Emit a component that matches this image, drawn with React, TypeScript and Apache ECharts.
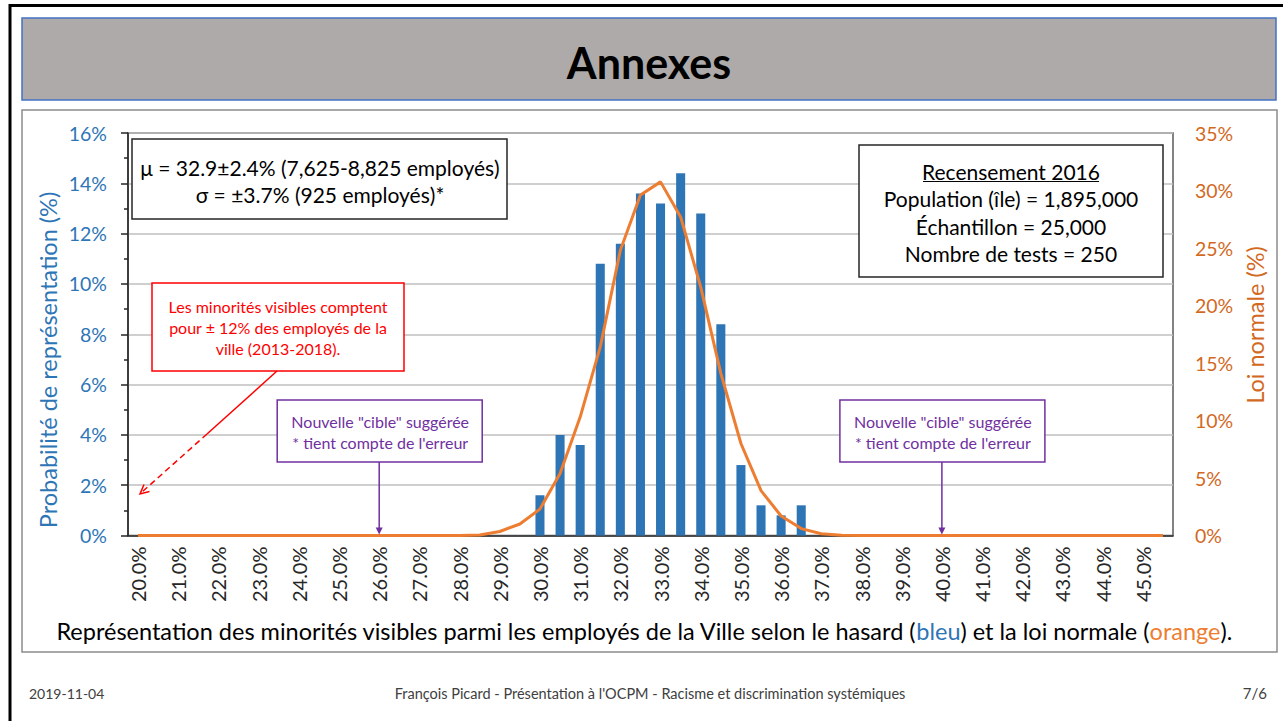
import React, { useEffect, useRef } from "react";
import * as echarts from "echarts";

// ---------- data ----------
const categories = [
  "20.0%", "20.5%", "21.0%", "21.5%", "22.0%", "22.5%", "23.0%", "23.5%", "24.0%", "24.5%",
  "25.0%", "25.5%", "26.0%", "26.5%", "27.0%", "27.5%", "28.0%", "28.5%", "29.0%", "29.5%",
  "30.0%", "30.5%", "31.0%", "31.5%", "32.0%", "32.5%", "33.0%", "33.5%", "34.0%", "34.5%",
  "35.0%", "35.5%", "36.0%", "36.5%", "37.0%", "37.5%", "38.0%", "38.5%", "39.0%", "39.5%",
  "40.0%", "40.5%", "41.0%", "41.5%", "42.0%", "42.5%", "43.0%", "43.5%", "44.0%", "44.5%",
  "45.0%", "45.5%",
];

// Probabilité de représentation (%) – bars (left axis)
const probabilite = [
  0, 0, 0, 0, 0, 0, 0, 0, 0, 0,
  0, 0, 0, 0, 0, 0, 0, 0, 0, 0,
  1.6, 4.0, 3.6, 10.8, 11.6, 13.6, 13.2, 14.4, 12.8, 8.4,
  2.8, 1.2, 0.8, 1.2, 0, 0, 0, 0, 0, 0,
  0, 0, 0, 0, 0, 0, 0, 0, 0, 0,
  0, 0,
];

// Loi normale (%) – line (right axis)
const loiNormale = [
  0, 0, 0, 0, 0, 0, 0, 0, 0, 0,
  0, 0, 0, 0, 0, 0, 0, 0.05, 0.35, 1.0,
  2.3, 5.4, 10.3, 16.4, 24.8, 29.6, 30.75, 27.7, 21.6, 14.1,
  8.0, 3.9, 1.7, 0.6, 0.15, 0.03, 0, 0, 0, 0,
  0, 0, 0, 0, 0, 0, 0, 0, 0, 0,
  0, 0,
];

const cibleCategories = ["26.0%", "40.0%"];

const statsLines = ["μ = 32.9±2.4% (7,625-8,825 employés)", "σ = ±3.7% (925 employés)*"];
const recensementLines = [
  "Recensement 2016",
  "Population (île) = 1,895,000",
  "Échantillon = 25,000",
  "Nombre de tests = 250",
];
const minoritesLines = [
  "Les minorités visibles comptent",
  "pour ± 12% des employés de la",
  "ville (2013-2018).",
];
const cibleLines = ['Nouvelle "cible" suggérée', "* tient compte de l'erreur"];

const FONT = 'Lato, "Open Sans", sans-serif';
const BLUE = "#2E75B6";
const ORANGE = "#ED7D31";
const ORANGE_TEXT = "#D2691E";
const PURPLE = "#7030A0";
const RED = "#FF0000";
const DARK = "#262626";

function txt(x: number, y: number, text: string, size: number, fill: string, extra: any = {}) {
  return {
    type: "text",
    x,
    y,
    z: 60,
    style: {
      text,
      fill,
      fontSize: size,
      fontFamily: FONT,
      align: "center",
      verticalAlign: "middle",
      ...extra,
    },
  };
}

function box(x: number, y: number, w: number, h: number, stroke: string, lw = 1.5) {
  return {
    type: "rect",
    z: 50,
    shape: { x, y, width: w, height: h },
    style: { fill: "#ffffff", stroke, lineWidth: lw },
  };
}

export default function App() {
  const ref = useRef<HTMLDivElement>(null);

  useEffect(() => {
    document.body.style.margin = "0";
    const chart = echarts.init(ref.current!, null, { renderer: "svg" });

    const option: any = {
      animation: false,
      backgroundColor: "#ffffff",
      textStyle: { fontFamily: FONT },
      grid: {
        left: 128,
        right: 110,
        top: 133,
        bottom: 185.5,
        show: true,
        borderColor: "#595959",
        borderWidth: 1.5,
        backgroundColor: "transparent",
      },
      xAxis: [
        {
          type: "category",
          data: categories,
          boundaryGap: true,
          axisLine: { lineStyle: { color: DARK, width: 1.5 } },
          axisTick: { interval: 0, length: 4, lineStyle: { color: DARK, width: 1.5 } },
          axisLabel: {
            interval: 1,
            rotate: 90,
            margin: 11,
            fontSize: 20,
            color: DARK,
            fontFamily: FONT,
          },
        },
        {
          type: "category",
          data: categories,
          position: "bottom",
          boundaryGap: true,
          axisLine: { show: false },
          axisTick: { interval: 1, length: 8, lineStyle: { color: DARK, width: 1.5 } },
          axisLabel: { show: false },
          splitLine: { show: false },
        },
      ],
      yAxis: [
        {
          type: "value",
          min: 0,
          max: 16,
          interval: 2,
          position: "left",
          axisLine: { show: true, lineStyle: { color: DARK, width: 1.5 } },
          axisTick: { show: true, length: 7, lineStyle: { color: DARK, width: 1.5 } },
          minorTick: { show: true, splitNumber: 2, length: 4, lineStyle: { color: DARK, width: 1.5 } },
          splitLine: { show: true, lineStyle: { color: "#BFBFBF", width: 1.5 } },
          axisLabel: { formatter: "{value}%", color: BLUE, fontSize: 19.5, margin: 21, fontFamily: FONT },
        },
        {
          type: "value",
          min: 0,
          max: 35,
          interval: 5,
          position: "right",
          axisLine: { show: false },
          axisTick: { show: false },
          splitLine: { show: false },
          axisLabel: { formatter: "{value}%", color: ORANGE_TEXT, fontSize: 19.5, margin: 22, fontFamily: FONT },
        },
      ],
      series: [
        {
          name: "Probabilité de représentation",
          type: "bar",
          xAxisIndex: 0,
          yAxisIndex: 0,
          data: probabilite,
          barWidth: "45%",
          itemStyle: { color: BLUE },
          z: 3,
        },
        {
          name: "Loi normale",
          type: "line",
          xAxisIndex: 0,
          yAxisIndex: 1,
          data: loiNormale,
          symbol: "none",
          lineStyle: { color: ORANGE, width: 3 },
          itemStyle: { color: ORANGE },
          z: 4,
        },
      ],
    };
    chart.setOption(option);

    const yZero = chart.convertToPixel({ yAxisIndex: 0 } as any, 0) as number;
    const cibleX = cibleCategories.map((c) => chart.convertToPixel({ xAxisIndex: 0 } as any, c) as number);

    const graphics: any[] = [];
    // slide frame
    graphics.push({
      type: "rect",
      z: 0,
      shape: { x: 10, y: 5.5, width: 1400, height: 800 },
      style: { fill: "none", stroke: "#000000", lineWidth: 3 },
    });
    // title bar
    graphics.push({
      type: "rect",
      z: 1,
      shape: { x: 22, y: 18, width: 1254, height: 82 },
      style: { fill: "#AEAAAA", stroke: "#4472C4", lineWidth: 1.5 },
    });
    graphics.push(txt(649, 62, "Annexes", 43, "#000000", { fontWeight: "bold" }));
    // chart frame
    graphics.push({
      type: "rect",
      z: 1,
      shape: { x: 22, y: 110, width: 1255, height: 542 },
      style: { fill: "none", stroke: "#8C8C8C", lineWidth: 1.5 },
    });
    // axis titles
    graphics.push({
      ...txt(48, 360, "Probabilité de représentation (%)", 23.5, BLUE),
      rotation: Math.PI / 2,
    });
    graphics.push({
      ...txt(1255, 325, "Loi normale (%)", 23.5, ORANGE_TEXT),
      rotation: Math.PI / 2,
    });

    // stats box
    graphics.push(box(132, 139, 375, 80, "#262626"));
    graphics.push(txt(320, 167, statsLines[0], 21, "#000000"));
    graphics.push(txt(320, 194, statsLines[1], 21, "#000000"));

    // recensement box
    graphics.push(box(859, 145, 304, 132, "#262626"));
    const recY = [171, 198, 226, 253];
    recensementLines.forEach((l, i) => graphics.push(txt(1011, recY[i], l, 21, "#000000")));
    graphics.push({
      type: "line",
      z: 60,
      shape: { x1: 923, y1: 181.5, x2: 1099, y2: 181.5 },
      style: { stroke: "#000000", lineWidth: 1.2 },
    });

    // red box + arrow
    graphics.push(box(152, 283, 252, 88, RED));
    const redY = [306, 327, 348];
    minoritesLines.forEach((l, i) => graphics.push(txt(278, redY[i], l, 16, RED)));
    graphics.push({
      type: "line",
      z: 60,
      shape: { x1: 277, y1: 371, x2: 207, y2: 434 },
      style: { stroke: RED, lineWidth: 1.5 },
    });
    graphics.push({
      type: "line",
      z: 60,
      shape: { x1: 207, y1: 434, x2: 142, y2: 492 },
      style: { stroke: RED, lineWidth: 1.5, lineDash: [6, 4] },
    });
    graphics.push({
      type: "polyline",
      z: 60,
      shape: { points: [[149.5, 491.5], [140, 494], [144, 484.5]] },
      style: { stroke: RED, lineWidth: 1.5, fill: "none" },
    });

    // purple "cible" boxes + arrows
    cibleX.forEach((cx) => {
      const bx = cx - 102;
      graphics.push(box(bx, 400, 205, 62, PURPLE));
      graphics.push(txt(cx + 1, 421, cibleLines[0], 16, PURPLE));
      graphics.push(txt(cx + 1, 442, cibleLines[1], 16, PURPLE));
      graphics.push({
        type: "line",
        z: 60,
        shape: { x1: cx, y1: 462, x2: cx, y2: yZero - 6 },
        style: { stroke: PURPLE, lineWidth: 1.5 },
      });
      graphics.push({
        type: "polygon",
        z: 60,
        shape: { points: [[cx - 3.5, yZero - 8], [cx + 3.5, yZero - 8], [cx, yZero - 1]] },
        style: { fill: PURPLE },
      });
    });

    // caption
    graphics.push({
      type: "text",
      x: 644,
      y: 631,
      z: 60,
      style: {
        text:
          "{a|Représentation des minorités visibles parmi les employés de la Ville selon le hasard (}{b|bleu}{a|) et la loi normale (}{c|orange}{a|).}",
        align: "center",
        verticalAlign: "middle",
        fontFamily: FONT,
        rich: {
          a: { fontSize: 23.5, fill: "#000000", fontFamily: FONT },
          b: { fontSize: 23.5, fill: BLUE, fontFamily: FONT },
          c: { fontSize: 23.5, fill: ORANGE, fontFamily: FONT },
        },
      },
    });

    // footer
    graphics.push(txt(29, 693, "2019-11-04", 14, "#404040", { align: "left" }));
    graphics.push(
      txt(650, 693, "François Picard - Présentation à l'OCPM - Racisme et discrimination systémiques", 14.5, "#404040")
    );
    graphics.push(txt(1267, 693, "7/6", 15, "#404040", { align: "right" }));

    chart.setOption({ graphic: graphics });

    return () => chart.dispose();
  }, []);

  return (
    <div
      ref={ref}
      style={{ position: "fixed", left: 0, top: 0, width: 1283, height: 721, background: "#fff" }}
    />
  );
}
